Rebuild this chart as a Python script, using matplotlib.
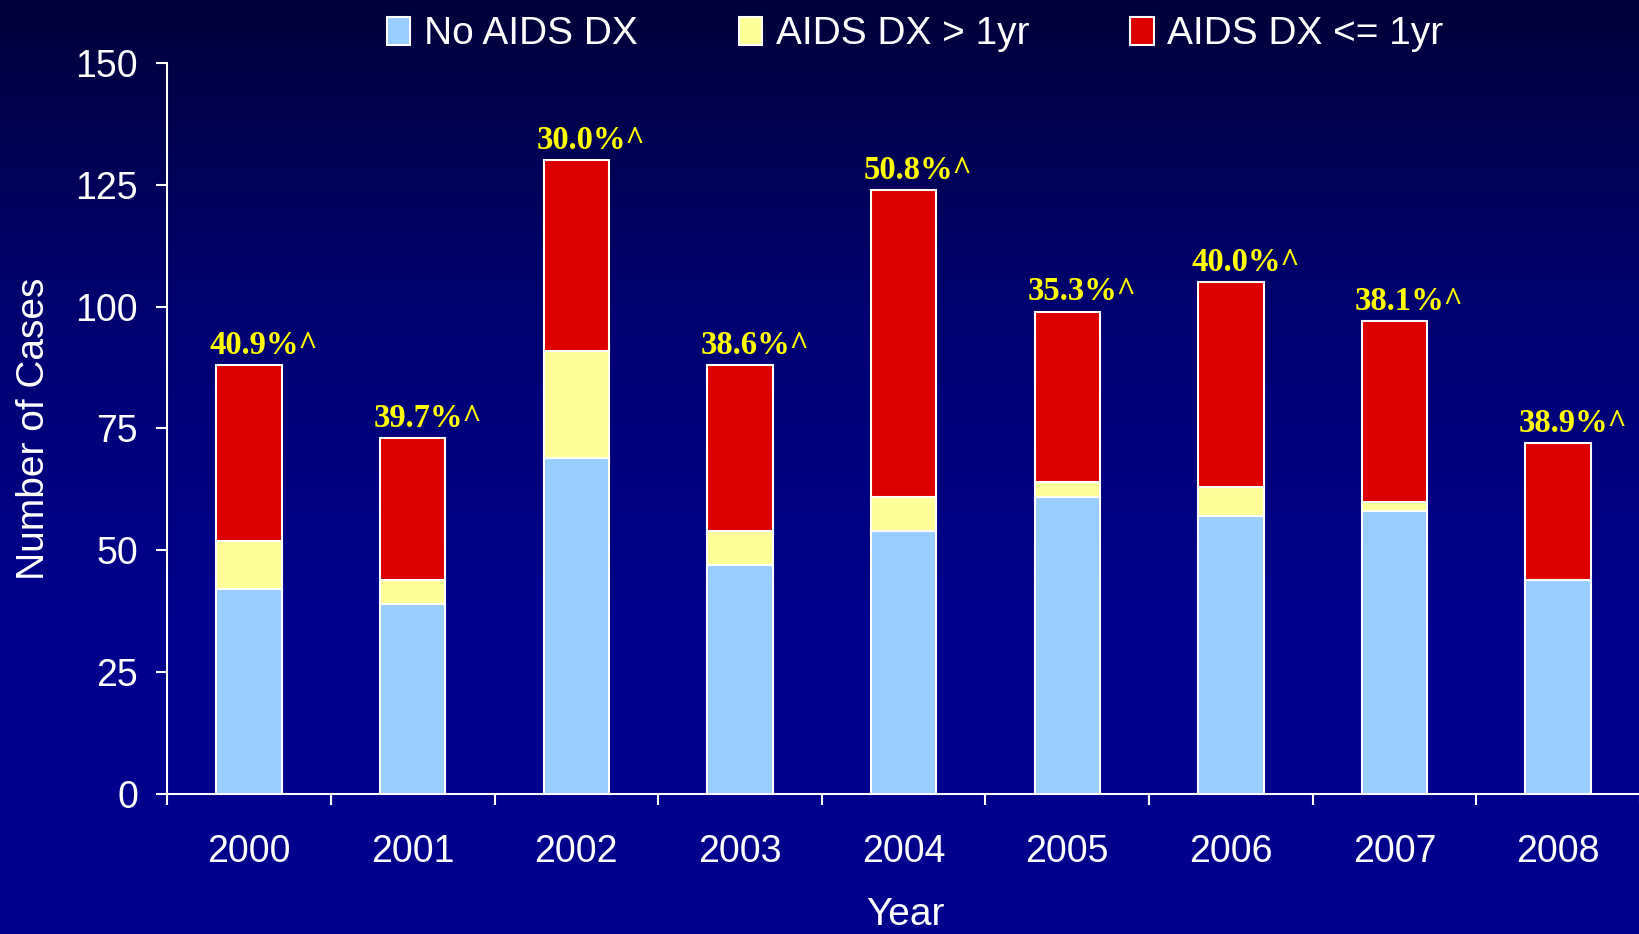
import numpy as np
import matplotlib.pyplot as plt
from matplotlib.colors import LinearSegmentedColormap
from matplotlib.patches import Patch

plt.rcParams['font.family'] = ['Liberation Sans', 'DejaVu Sans']

# data
years = ['2000', '2001', '2002', '2003', '2004', '2005', '2006', '2007', '2008']
no_aids = [42, 39, 69, 47, 54, 61, 57, 58, 44]
aids_gt1 = [10, 5, 22, 7, 7, 3, 6, 2, 0]
aids_le1 = [36, 29, 39, 34, 63, 35, 42, 37, 28]
pct_labels = ['40.9%^', '39.7%^', '30.0%^', '38.6%^', '50.8%^',
              '35.3%^', '40.0%^', '38.1%^', '38.9%^']
series_names = ['No AIDS DX', 'AIDS DX > 1yr', 'AIDS DX <= 1yr']
colors = ['#99CCFF', '#FFFF99', '#DD0000']

fig = plt.figure(figsize=(16.4, 9.34), dpi=100)

# background gradient
bg = fig.add_axes([0, 0, 1, 1], zorder=0)
grad_cmap = LinearSegmentedColormap.from_list('bg', ['#00003A', '#000070', '#00008C', '#00008E'])
bg.imshow(np.linspace(0, 1, 256).reshape(-1, 1), aspect='auto', cmap=grad_cmap,
          extent=[0, 1, 0, 1])
bg.axis('off')

ax = fig.add_axes([0.102, 0.15, 0.898, 0.7825], zorder=1)
ax.patch.set_alpha(0)

x = np.arange(len(years))
w = 0.4
b1 = np.array(no_aids)
b2 = b1 + np.array(aids_gt1)
tot = b2 + np.array(aids_le1)

ax.bar(x, no_aids, w, color=colors[0], edgecolor='white', linewidth=1.5)
ax.bar(x, aids_gt1, w, bottom=b1, color=colors[1], edgecolor='white', linewidth=1.5)
ax.bar(x, aids_le1, w, bottom=b2, color=colors[2], edgecolor='white', linewidth=1.5)

for xi, t, lab in zip(x, tot, pct_labels):
    ax.text(xi + 0.09, t + 2.3, lab, ha='center', va='baseline', color='#FFFF00',
            fontsize=23.5, fontweight='bold', family='Liberation Serif')

ax.set_xlim(-0.5, 8.5)
ax.set_ylim(0, 150)
ax.set_yticks(np.arange(0, 151, 25))
ax.set_xticks(x)
ax.set_xticklabels(years)
ax.set_xticks(np.arange(-0.5, 9, 1), minor=True)

for s in ['top', 'right']:
    ax.spines[s].set_visible(False)
for s in ['left', 'bottom']:
    ax.spines[s].set_color('white')
    ax.spines[s].set_linewidth(1.5)

ax.tick_params(axis='x', which='major', length=0, pad=29, labelsize=27, labelcolor='white')
ax.tick_params(axis='x', which='minor', length=8, width=1.5, color='white', direction='out')
ax.tick_params(axis='y', length=8, width=1.5, color='white', pad=13, labelsize=27,
               labelcolor='white')

fig.text(0.021, 0.541, 'Number of Cases', rotation=90, ha='center', va='center',
         color='white', fontsize=28)
fig.text(0.552, 0.02, 'Year', ha='center', va='center', color='white', fontsize=28)

handles = [Patch(facecolor=c, edgecolor='white', linewidth=1.5) for c in colors]
fig.legend(handles, series_names, loc='upper center', bbox_to_anchor=(0.558, 1.02),
           ncol=3, frameon=False, fontsize=28, labelcolor='white', handlelength=0.6,
           handleheight=0.75, handletextpad=0.35, columnspacing=2.6)

fig.savefig('out.png', dpi=100)
